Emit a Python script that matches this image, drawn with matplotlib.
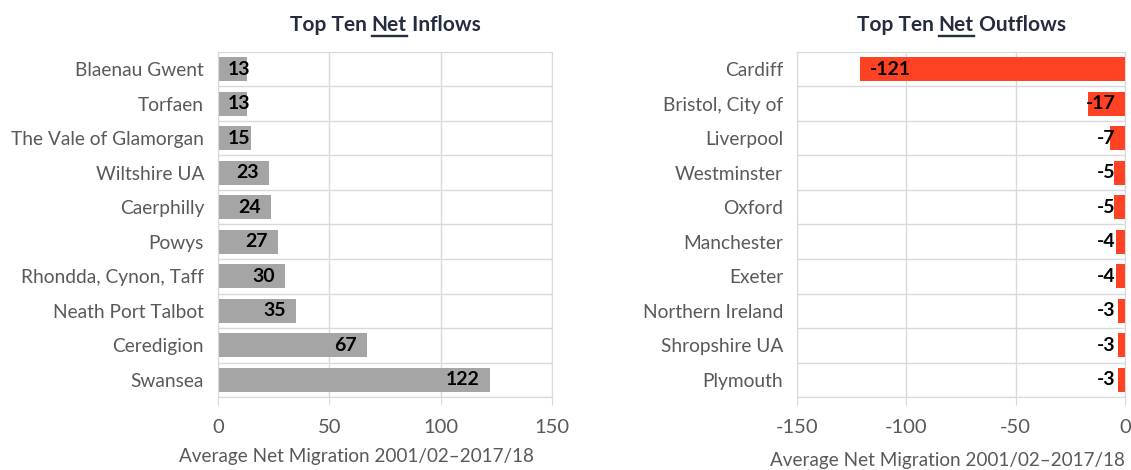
import matplotlib.pyplot as plt
import numpy as np

plt.rcParams['font.family'] = ['Lato', 'DejaVu Sans']

inflow_places = ['Blaenau Gwent', 'Torfaen', 'The Vale of Glamorgan', 'Wiltshire UA',
                 'Caerphilly', 'Powys', 'Rhondda, Cynon, Taff', 'Neath Port Talbot',
                 'Ceredigion', 'Swansea']
inflow_values = [13, 13, 15, 23, 24, 27, 30, 35, 67, 122]

outflow_places = ['Cardiff', 'Bristol, City of', 'Liverpool', 'Westminster', 'Oxford',
                  'Manchester', 'Exeter', 'Northern Ireland', 'Shropshire UA', 'Plymouth']
outflow_values = [-121, -17, -7, -5, -5, -4, -4, -3, -3, -3]

GREY_BAR = '#A5A5A5'
RED_BAR = '#FF4124'
TXT = '#595959'
GRID = '#D9D9D9'
TITLE_C = '#262C3F'
XLABEL = 'Average Net Migration 2001/02\u20132017/18'


def style_axes(ax, names, xlim, xticks, label_x, label_y):
    n = len(names)
    ax.set_xlim(*xlim)
    ax.set_ylim(n - 0.5, -0.5)
    ax.set_xticks(xticks)
    ax.set_xticklabels([str(t) for t in xticks])
    ax.set_yticks(np.arange(n))
    ax.set_yticklabels(names)
    ax.set_yticks(np.arange(n) + 0.5, minor=True)
    ax.tick_params(axis='y', which='both', length=0, labelsize=13.8, labelcolor=TXT, pad=10)
    ax.tick_params(axis='x', length=6, color=GRID, labelsize=14.5, labelcolor=TXT, pad=10)
    ax.grid(axis='x', color=GRID, lw=1)
    ax.grid(axis='y', which='minor', color=GRID, lw=1)
    ax.set_axisbelow(True)
    for s in ax.spines.values():
        s.set_color(GRID)
    ax.set_xlabel(XLABEL, fontsize=13.6, color=TXT)
    ax.xaxis.set_label_coords(label_x, label_y)


def underlined_title(fig, ax, parts, y):
    # parts: list of (text, underline)
    fig.canvas.draw()
    r = fig.canvas.get_renderer()
    texts = []
    for t, u in parts:
        texts.append(fig.text(0, y, t, fontsize=15, fontweight='bold', color=TITLE_C,
                              va='baseline'))
    widths = [tx.get_window_extent(r).width for tx in texts]
    total = sum(widths)
    ab = ax.get_window_extent(r)
    fw = fig.get_figwidth() * fig.dpi
    x = (ab.x0 + ab.x1) / 2 - total / 2
    for tx, w, (t, u) in zip(texts, widths, parts):
        tx.set_x(x / fw)
        if u:
            yl = y - 5 / (fig.get_figheight() * fig.dpi)
            fig.add_artist(plt.Line2D([x / fw, (x + w) / fw], [yl, yl],
                                      color=TITLE_C, lw=1.7))
        x += w


fig = plt.figure(figsize=(11.31, 4.70), dpi=100)
ax1 = fig.add_axes([0.1927, 0.1553, 0.2953, 0.7341])
ax2 = fig.add_axes([0.7047, 0.1553, 0.2900, 0.7341])

y = np.arange(len(inflow_places))
ax1.barh(y, inflow_values, height=0.7, color=GREY_BAR, zorder=2)
style_axes(ax1, inflow_places, (0, 150), [0, 50, 100, 150], 0.416, -0.148)
for i, v in enumerate(inflow_values):
    w = len(str(v)) * 5.0
    ax1.text(max(v - 4.5, w + 4.5), i, str(v), ha='right', va='center',
             fontsize=14, fontweight='bold', color='black', zorder=3)

ax2.barh(y, outflow_values, height=0.7, color=RED_BAR, zorder=2)
style_axes(ax2, outflow_places, (-150, 0), [-150, -100, -50, 0], 0.46, -0.158)
for i, v in enumerate(outflow_values):
    w = len(str(v)) * 5.0
    if v + 4.5 + w < -4.5:
        ax2.text(v + 4.5, i, str(v), ha='left', va='center',
                 fontsize=14, fontweight='bold', color='black', zorder=3)
    else:
        ax2.text(-4.5, i, str(v), ha='right', va='center',
                 fontsize=14, fontweight='bold', color='black', zorder=3)

underlined_title(fig, ax1, [('Top Ten ', False), ('Net', True), (' Inflows', False)], 0.935)
underlined_title(fig, ax2, [('Top Ten ', False), ('Net', True), (' Outflows', False)], 0.935)

fig.savefig('out.png', dpi=100)
